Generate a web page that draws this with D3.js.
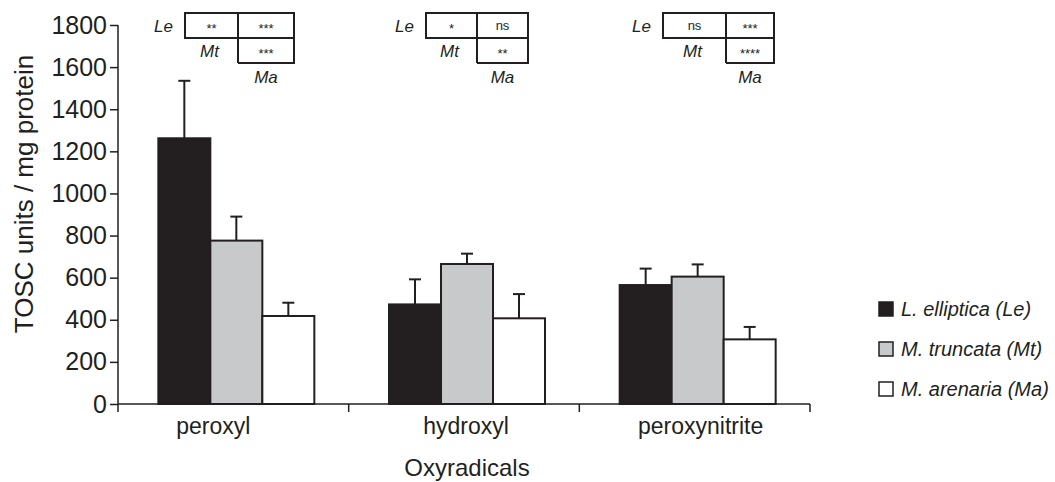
<!DOCTYPE html>
<html>
<head>
<meta charset="utf-8">
<script src="https://cdn.jsdelivr.net/npm/d3@7"></script>
<style>
  body { margin: 0; background: #fff; }
  svg { display: block; font-family: "Liberation Sans", Arial, sans-serif; }
</style>
</head>
<body>
<div id="chart"></div>
<script>
// data
const radicals = ['peroxyl', 'hydroxyl', 'peroxynitrite'];
const species = ['Le', 'Mt', 'Ma'];
const speciesNames = ['L. elliptica (Le)', 'M. truncata (Mt)', 'M. arenaria (Ma)'];
const meanLe = [1262, 473, 565];
const meanMt = [776, 665, 605];
const meanMa = [418, 407, 307];
const errLe = [1535, 592, 643];
const errMt = [890, 714, 663];
const errMa = [481, 522, 366];
// pairwise significance: Le-Mt, Le-Ma, Mt-Ma
const sigLeMt = ['**', '*', 'ns'];
const sigLeMa = ['***', 'ns', '***'];
const sigMtMa = ['***', '**', '****'];
const yTicks = [0, 200, 400, 600, 800, 1000, 1200, 1400, 1600, 1800];

const width = 1055, height = 482;
const ink = '#231f20';
const fills = ['#231f20', '#c8c9cb', '#ffffff'];

const svg = d3.select('#chart').append('svg')
  .attr('width', width)
  .attr('height', height);

const x = d3.scaleBand().domain(radicals).range([118, 810]);
const xs = d3.scaleBand().domain(species).range([0, 156]);
const y = d3.scaleLinear().domain([0, 1800]).range([404, 25]);

const means = [meanLe, meanMt, meanMa];
const errs = [errLe, errMt, errMa];
const rows = [];
radicals.forEach((r, i) => {
  species.forEach((s, j) => {
    rows.push({ r, s, j, v: means[j][i], e: errs[j][i] });
  });
});
const groupX = r => x(r) + (x.bandwidth() - 156) / 2 + 3;

// error bars (drawn first so bars overlap the stem)
const eb = svg.append('g').attr('stroke', ink).attr('stroke-width', 2);
eb.selectAll('line.stem').data(rows).join('line')
  .attr('x1', d => groupX(d.r) + xs(d.s) + xs.bandwidth() / 2)
  .attr('x2', d => groupX(d.r) + xs(d.s) + xs.bandwidth() / 2)
  .attr('y1', d => y(d.v))
  .attr('y2', d => y(d.e));
eb.selectAll('line.cap').data(rows).join('line')
  .attr('x1', d => groupX(d.r) + xs(d.s) + xs.bandwidth() / 2 - 6)
  .attr('x2', d => groupX(d.r) + xs(d.s) + xs.bandwidth() / 2 + 6)
  .attr('y1', d => y(d.e))
  .attr('y2', d => y(d.e));

// bars
svg.append('g').selectAll('rect').data(rows).join('rect')
  .attr('x', d => groupX(d.r) + xs(d.s))
  .attr('y', d => y(d.v))
  .attr('width', xs.bandwidth())
  .attr('height', d => y(0) - y(d.v))
  .attr('fill', d => fills[d.j])
  .attr('stroke', ink)
  .attr('stroke-width', 2);

// y axis
const yAxis = svg.append('g')
  .attr('transform', 'translate(118,0)')
  .call(d3.axisLeft(y).tickValues(yTicks).tickFormat(d3.format('d'))
    .tickSize(8).tickPadding(3).tickSizeOuter(0));
yAxis.select('.domain').remove();
yAxis.selectAll('.tick line').attr('stroke', ink).attr('stroke-width', 1.5);
yAxis.selectAll('.tick text')
  .attr('fill', ink)
  .style('font-size', '25px')
  .style('font-family', '"Liberation Sans", Arial, sans-serif');
svg.append('line')
  .attr('x1', 118).attr('x2', 118)
  .attr('y1', y(1800)).attr('y2', 412)
  .attr('stroke', ink).attr('stroke-width', 1.5);

// x axis
svg.append('line')
  .attr('x1', 118).attr('x2', 810)
  .attr('y1', y(0)).attr('y2', y(0))
  .attr('stroke', ink).attr('stroke-width', 1.5);
svg.append('g').selectAll('line').data(radicals).join('line')
  .attr('x1', d => x(d) + x.bandwidth())
  .attr('x2', d => x(d) + x.bandwidth())
  .attr('y1', y(0)).attr('y2', 412)
  .attr('stroke', ink).attr('stroke-width', 1.5);
svg.append('g').selectAll('text').data(radicals).join('text')
  .attr('x', d => x(d) + x.bandwidth() / 2 + (d === 'peroxyl' ? -20 : d === 'peroxynitrite' ? 6 : 2))
  .attr('y', 434)
  .attr('text-anchor', 'middle')
  .attr('fill', ink)
  .style('font-size', '23px')
  .text(d => d);

svg.append('text')
  .attr('x', 467).attr('y', 476)
  .attr('text-anchor', 'middle')
  .attr('fill', ink)
  .style('font-size', '24px')
  .text('Oxyradicals');

svg.append('text')
  .attr('transform', 'translate(33,194) rotate(-90)')
  .attr('text-anchor', 'middle')
  .attr('fill', ink)
  .style('font-size', '26px')
  .text('TOSC units / mg protein');

// significance tables
const tableLeft = [185, 426, 663];
const tableMid = [238, 477, 726];
const tableRight = [294, 528, 774];
radicals.forEach((r, i) => {
  const g = svg.append('g');
  const x0 = tableLeft[i], xm = tableMid[i], x1 = tableRight[i];
  const t0 = 13, t1 = 38, t2 = 63;
  g.append('rect').attr('x', x0).attr('y', t0).attr('width', x1 - x0).attr('height', t1 - t0)
    .attr('fill', 'none').attr('stroke', ink).attr('stroke-width', 2);
  g.append('line').attr('x1', xm).attr('x2', xm).attr('y1', t0).attr('y2', t2)
    .attr('stroke', ink).attr('stroke-width', 2);
  g.append('polyline').attr('points', `${xm},${t2} ${x1},${t2} ${x1},${t1}`)
    .attr('fill', 'none').attr('stroke', ink).attr('stroke-width', 2);
  const cell = (cx, cy, s) => g.append('text')
    .attr('x', cx).attr('y', cy).attr('dy', s === 'ns' ? '0.35em' : '0.6em')
    .attr('text-anchor', 'middle').attr('fill', ink)
    .style('font-size', '13px').text(s);
  cell((x0 + xm) / 2, (t0 + t1) / 2, sigLeMt[i]);
  cell((xm + x1) / 2, (t0 + t1) / 2, sigLeMa[i]);
  cell((xm + x1) / 2, (t1 + t2) / 2, sigMtMa[i]);
  const lab = (lx, ly, s, anchor) => g.append('text')
    .attr('x', lx).attr('y', ly).attr('text-anchor', anchor)
    .attr('fill', ink).style('font-size', '17px').style('font-style', 'italic').text(s);
  lab(x0 - 12, 32, species[0], 'end');
  lab((x0 + xm) / 2 - 2, 57, species[1], 'middle');
  lab((xm + x1) / 2, 83, species[2], 'middle');
});

// legend
const legend = svg.append('g').selectAll('g').data(speciesNames).join('g')
  .attr('transform', (d, i) => `translate(879,${309 + i * 40})`);
legend.append('rect')
  .attr('x', 0).attr('y', -7).attr('width', 14).attr('height', 14)
  .attr('fill', (d, i) => fills[i])
  .attr('stroke', ink).attr('stroke-width', 1.5);
legend.append('text')
  .attr('x', 22).attr('dy', '0.36em')
  .attr('fill', ink)
  .style('font-size', '20px').style('font-style', 'italic')
  .text(d => d);
</script>
</body>
</html>
